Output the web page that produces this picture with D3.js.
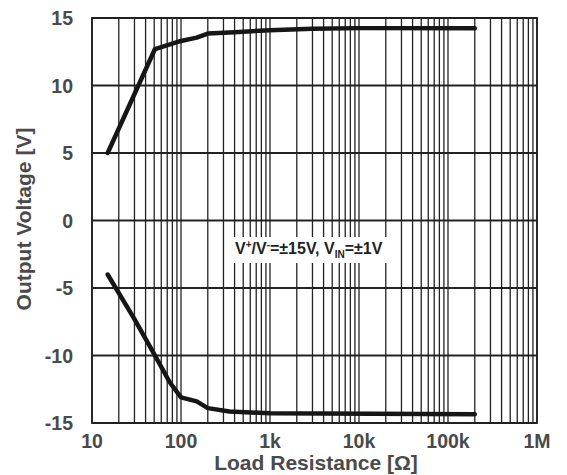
<!DOCTYPE html>
<html>
<head>
<meta charset="utf-8">
<script src="https://cdn.jsdelivr.net/npm/d3@7"></script>
<style>
  body { margin: 0; background: #fff; }
  text { font-family: "Liberation Sans", Arial, sans-serif; font-weight: bold; fill: #4a4a4a; }
</style>
</head>
<body>
<svg id="chart" width="567" height="475"></svg>
<script>
// data
const xTickValues = [10, 100, 1000, 10000, 100000, 1000000];
const xTickLabels = ["10", "100", "1k", "10k", "100k", "1M"];
const yTickValues = [-15, -10, -5, 0, 5, 10, 15];

const resHigh = [15, 51, 100, 150, 200, 400, 1000, 3000, 10000, 200000];
const voutHigh = [5, 12.7, 13.3, 13.55, 13.85, 13.95, 14.1, 14.2, 14.25, 14.25];

const resLow = [15, 30, 50, 75, 100, 150, 200, 350, 1000, 200000];
const voutLow = [-4, -7.3, -9.9, -12.0, -13.1, -13.4, -13.9, -14.15, -14.28, -14.35];

const svg = d3.select('#chart');
const pLeft = 92, pRight = 537, pTop = 18, pBottom = 423;

const x = d3.scaleLog().domain([10, 1e6]).range([pLeft, pRight]);
const y = d3.scaleLinear().domain([-15, 15]).range([pBottom, pTop]);

// minor + major vertical grid (1..9 per decade)
const vLines = [];
for (let d = 10; d < 1e6; d *= 10) {
  for (let k = 1; k < 10; k++) vLines.push(d * k);
}
vLines.push(1e6);

const grid = svg.append('g');
grid.selectAll('line.v')
  .data(vLines)
  .enter()
  .append('line')
  .attr('x1', d => x(d)).attr('x2', d => x(d))
  .attr('y1', pTop).attr('y2', pBottom)
  .attr('stroke', '#222')
  .attr('stroke-width', 1.3);

grid.selectAll('line.h')
  .data(yTickValues)
  .enter()
  .append('line')
  .attr('x1', pLeft).attr('x2', pRight)
  .attr('y1', d => y(d)).attr('y2', d => y(d))
  .attr('stroke', '#222')
  .attr('stroke-width', 1.8);

svg.append('rect')
  .attr('x', pLeft).attr('y', pTop)
  .attr('width', pRight - pLeft).attr('height', pBottom - pTop)
  .attr('fill', 'none').attr('stroke', '#222').attr('stroke-width', 1.8);

// curves
const line = d3.line().x(d => x(d[0])).y(d => y(d[1]));
[[resHigh, voutHigh], [resLow, voutLow]].forEach(([rs, vs]) => {
  svg.append('path')
    .datum(rs.map((r, i) => [r, vs[i]]))
    .attr('d', line)
    .attr('fill', 'none')
    .attr('stroke', '#161616')
    .attr('stroke-width', 4.5)
    .attr('stroke-linejoin', 'round')
    .attr('stroke-linecap', 'round');
});

// annotation with white background
svg.append('rect')
  .attr('x', 232).attr('y', 237).attr('width', 158).attr('height', 26)
  .attr('fill', '#fff');
const ann = svg.append('text')
  .attr('x', 235).attr('y', 253.5)
  .style('font-size', '16px')
  .style('fill', '#222');
ann.append('tspan').text('V');
ann.append('tspan').attr('dy', -6).style('font-size', '10px').text('+');
ann.append('tspan').attr('dy', 6).text('/V');
ann.append('tspan').attr('dy', -6).style('font-size', '10px').text('-');
ann.append('tspan').attr('dy', 6).text('=±15V, V');
ann.append('tspan').attr('dy', 4).style('font-size', '10px').text('IN');
ann.append('tspan').attr('dy', -4).text('=±1V');

// y axis labels
svg.append('g').selectAll('text')
  .data(yTickValues)
  .enter()
  .append('text')
  .attr('x', 73)
  .attr('y', d => y(d) + 7)
  .attr('text-anchor', 'end')
  .style('font-size', '19.5px')
  .text(d => d);

// x axis labels
svg.append('g').selectAll('text')
  .data(xTickValues)
  .enter()
  .append('text')
  .attr('x', d => x(d))
  .attr('y', 448)
  .attr('text-anchor', 'middle')
  .style('font-size', '19.5px')
  .text((d, i) => xTickLabels[i]);

svg.append('text')
  .attr('x', 316).attr('y', 470)
  .attr('text-anchor', 'middle')
  .style('font-size', '21px')
  .text('Load Resistance [Ω]');

svg.append('text')
  .attr('transform', 'translate(31,' + 219 + ') rotate(-90)')
  .attr('text-anchor', 'middle')
  .style('font-size', '21px')
  .text('Output Voltage [V]');
</script>
</body>
</html>
